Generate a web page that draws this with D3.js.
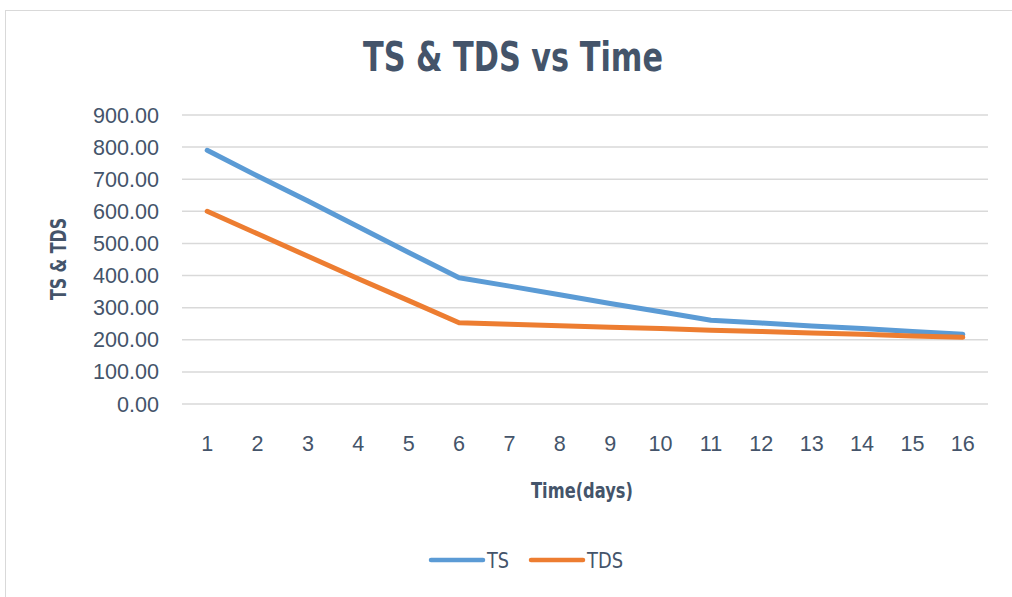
<!DOCTYPE html>
<html>
<head>
<meta charset="utf-8">
<script src="https://cdn.jsdelivr.net/npm/d3@7"></script>
<style>
  body { margin: 0; background: #fff; }
  svg { font-family: "DejaVu Sans", sans-serif; }
</style>
</head>
<body>
<div id="chart"></div>
<script>
const days = ["1","2","3","4","5","6","7","8","9","10","11","12","13","14","15","16"];
const tsValues = [790, 710, 632, 552, 472, 393, 367, 340, 313, 287, 261, 252, 243, 235, 226, 217];
const tdsValues = [600, 530, 460, 390, 322, 253, 248, 244, 239, 235, 230, 226, 221, 217, 212, 208];
const yTicks = [0, 100, 200, 300, 400, 500, 600, 700, 800, 900];

const width = 1012, height = 597;
const textColor = "#44546a";

const svg = d3.select("#chart").append("svg").attr("width", width).attr("height", height);

// chart border
svg.append("rect")
  .attr("x", 5.5).attr("y", 10.5).attr("width", 1012).attr("height", 600)
  .attr("fill", "none").attr("stroke", "#d9d9d9").attr("stroke-width", 1);

const x = d3.scaleBand().domain(days).range([182, 988]).padding(0);
const y = d3.scaleLinear().domain([0, 900]).range([404, 115]);

// gridlines
svg.append("g")
  .selectAll("line")
  .data(yTicks)
  .enter().append("line")
  .attr("x1", 182).attr("x2", 988)
  .attr("y1", d => y(d)).attr("y2", d => y(d))
  .attr("stroke", "#d9d9d9").attr("stroke-width", 1.5);

// y axis labels
const yAxis = svg.append("g").attr("transform", "translate(159,0)")
  .call(d3.axisLeft(y).tickValues(yTicks).tickSize(0).tickFormat(d3.format(".2f")));
yAxis.select(".domain").remove();
yAxis.selectAll("text")
  .attr("x", 0)
  .attr("font-size", 22).attr("fill", textColor).attr("font-family", null);

// squeeze tick labels so "900.00" is ~66px wide like the reference
const w900 = yAxis.selectAll("text").nodes().pop().getComputedTextLength();
const tickSqueeze = Math.min(1, 66 / w900);
yAxis.selectAll("text").attr("transform", `scale(${tickSqueeze},1)`);

// x axis labels
const xAxis = svg.append("g").attr("transform", "translate(0,432)")
  .call(d3.axisBottom(x).tickSize(0));
xAxis.select(".domain").remove();
xAxis.selectAll("text")
  .attr("transform", `scale(${tickSqueeze},1)`)
  .attr("font-size", 22).attr("fill", textColor).attr("font-family", null);

// lines
const line = d3.line()
  .x((d, i) => x(days[i]) + x.bandwidth() / 2)
  .y(d => y(d));

svg.append("path").datum(tsValues)
  .attr("d", line).attr("fill", "none")
  .attr("stroke", "#5b9bd5").attr("stroke-width", 5).attr("stroke-linecap", "round").attr("stroke-linejoin", "round");

svg.append("path").datum(tdsValues)
  .attr("d", line).attr("fill", "none")
  .attr("stroke", "#ed7d31").attr("stroke-width", 5).attr("stroke-linecap", "round").attr("stroke-linejoin", "round");

// label squeezed to a target width
function label(px, py, txt, size, target, opts = {}) {
  const t = svg.append("text")
    .attr("text-anchor", opts.anchor || "middle")
    .attr("font-size", size)
    .attr("font-weight", opts.bold ? "bold" : "normal")
    .attr("fill", textColor)
    .text(txt);
  const s = Math.min(1, target / t.node().getComputedTextLength());
  t.attr("transform", `translate(${px},${py}) rotate(${opts.rotate || 0}) scale(${s},1)`);
  return t;
}

label(513, 71, "TS & TDS vs Time", 40, 300, { bold: true });
label(582, 498, "Time(days)", 22, 102, { bold: true });
label(66, 259, "TS & TDS", 22, 82, { bold: true, rotate: -90 });

// legend
const legendItems = [
  { name: "TS", color: "#5b9bd5", x: 431, w: 22 },
  { name: "TDS", color: "#ed7d31", x: 531, w: 36 }
];
legendItems.forEach(item => {
  svg.append("line")
    .attr("x1", item.x).attr("x2", item.x + 52)
    .attr("y1", 560).attr("y2", 560)
    .attr("stroke", item.color).attr("stroke-width", 4.5).attr("stroke-linecap", "round");
  label(item.x + 56, 568, item.name, 22, item.w, { anchor: "start" });
});
</script>
</body>
</html>
